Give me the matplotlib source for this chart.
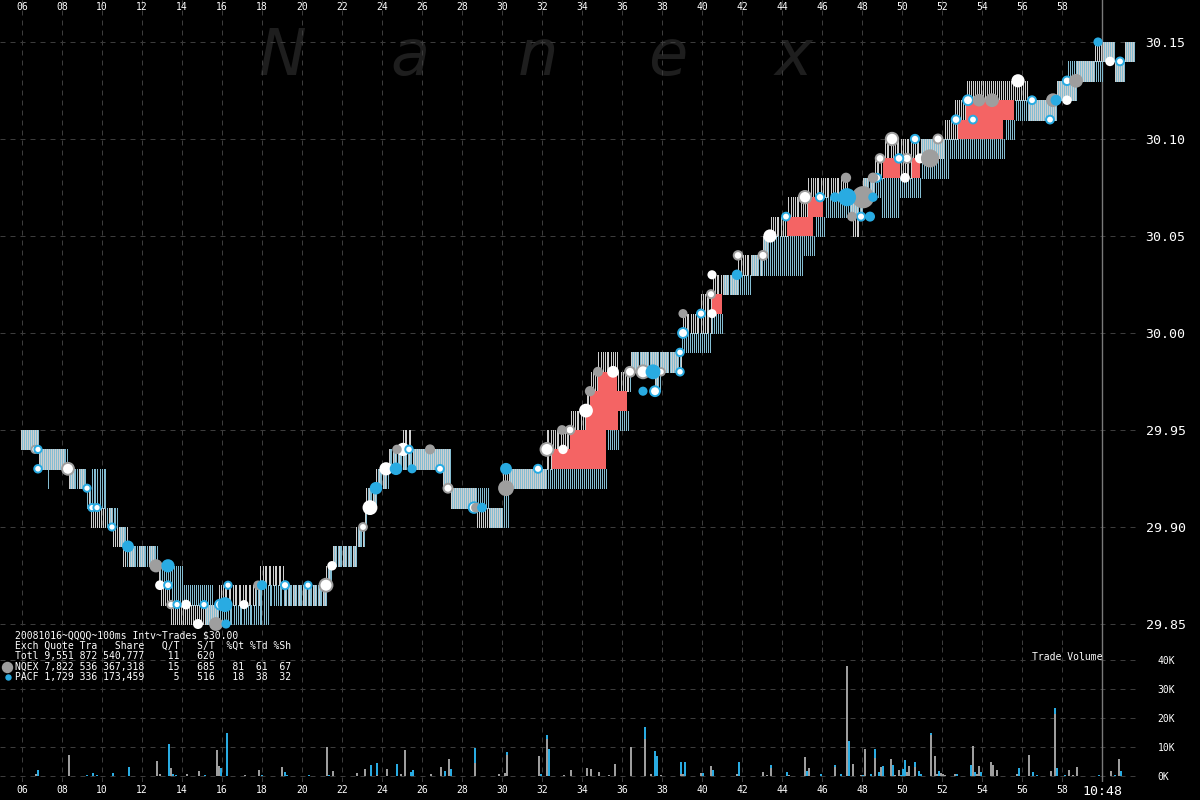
import numpy as np
import matplotlib
matplotlib.use("Agg")
import matplotlib.pyplot as plt
from matplotlib.lines import Line2D

# ---------------- data (time = seconds after 10:47:00) ----------------
# NQEX quote steps: start time, bid, ask
NQ_T = [5.9, 6.8, 8.3, 9.2, 9.4, 10.5, 11.0, 11.3, 12.75, 12.9, 13.4, 15.8, 17.9, 19.05,
        21.2, 21.45, 22.65, 23.05, 23.2, 23.65, 24.25, 25.0, 25.45, 27.0, 27.4, 28.7, 30.0,
        32.2, 32.5, 33.4, 34.2, 34.4, 34.8, 35.75, 36.4, 37.55, 37.9, 39.0, 39.9, 40.5,
        41.75, 43.0, 43.4, 44.25, 45.3, 47.25, 47.5, 47.9, 48.0, 48.55, 49.05, 49.9, 50.5,
        52.05, 52.6, 52.8, 53.2, 56.3, 57.65, 58.65, 59.55, 60.55, 61.05]
NQ_BID = [29.94, 29.93, 29.92, 29.91, 29.90, 29.89, 29.88, 29.88, 29.87, 29.86, 29.85, 29.86, 29.87, 29.86,
          29.87, 29.88, 29.89, 29.90, 29.91, 29.92, 29.93, 29.93, 29.93, 29.92, 29.91, 29.90, 29.92,
          29.93, 29.94, 29.95, 29.96, 29.97, 29.98, 29.97, 29.98, 29.97, 29.98, 30.00, 30.00, 30.02,
          30.03, 30.04, 30.05, 30.06, 30.07, 30.06, 30.05, 30.06, 30.07, 30.08, 30.09, 30.08, 30.09,
          30.10, 30.10, 30.11, 30.12, 30.11, 30.12, 30.13, 30.14, 30.13, 30.14]
NQ_ASK = [29.95, 29.94, 29.93, 29.92, 29.91, 29.90, 29.90, 29.89, 29.88, 29.87, 29.86, 29.87, 29.88, 29.87,
          29.88, 29.89, 29.90, 29.91, 29.92, 29.93, 29.94, 29.95, 29.94, 29.94, 29.92, 29.91, 29.93,
          29.95, 29.95, 29.96, 29.97, 29.98, 29.99, 29.98, 29.99, 29.99, 29.99, 30.01, 30.02, 30.03,
          30.04, 30.05, 30.06, 30.07, 30.08, 30.07, 30.07, 30.07, 30.08, 30.09, 30.10, 30.10, 30.10,
          30.11, 30.12, 30.12, 30.13, 30.12, 30.13, 30.14, 30.15, 30.14, 30.15]

# PACF quote steps: start time, bid, ask
PA_T = [5.9, 6.8, 7.15, 7.3, 8.3, 9.2, 9.4, 10.2, 10.8, 11.2, 12.75, 13.4, 14.0, 15.05, 15.5,
        17.55, 18.3, 21.2, 21.45, 22.65, 23.05, 23.2, 23.65, 24.25, 27.0, 27.4, 29.3, 30.0,
        30.3, 35.2, 35.8, 36.25, 36.4, 37.55, 37.9, 38.9, 40.4, 41.0, 42.4, 43.0, 45.0,
        45.55, 46.05, 48.0, 48.9, 49.8, 50.9, 52.3, 55.05, 55.6, 57.65, 58.15, 58.65, 60.0,
        60.55, 61.05]
PA_BID = [29.94, 29.93, 29.92, 29.93, 29.92, 29.91, 29.91, 29.90, 29.89, 29.88, 29.87, 29.86, 29.86, 29.85, 29.85,
          29.85, 29.86, 29.87, 29.88, 29.89, 29.90, 29.91, 29.92, 29.93, 29.92, 29.91, 29.90, 29.90,
          29.92, 29.94, 29.95, 29.97, 29.98, 29.97, 29.98, 29.99, 30.00, 30.02, 30.03, 30.03, 30.04,
          30.05, 30.06, 30.07, 30.06, 30.07, 30.08, 30.09, 30.10, 30.11, 30.12, 30.12, 30.13, 30.14,
          30.13, 30.14]
PA_ASK = [29.95, 29.94, 29.94, 29.94, 29.93, 29.92, 29.93, 29.91, 29.90, 29.89, 29.88, 29.88, 29.87, 29.87, 29.86,
          29.87, 29.87, 29.88, 29.89, 29.90, 29.91, 29.92, 29.93, 29.94, 29.94, 29.92, 29.91, 29.92,
          29.93, 29.95, 29.96, 29.98, 29.99, 29.99, 29.99, 30.00, 30.01, 30.03, 30.04, 30.05, 30.05,
          30.06, 30.07, 30.08, 30.08, 30.08, 30.10, 30.10, 30.11, 30.12, 30.13, 30.14, 30.14, 30.15,
          30.14, 30.15]
T_END = 61.6

# Trades: time, price, size (shares), marker style
TR_T = [6.65, 6.8, 6.8, 8.3, 9.25, 9.5, 9.75, 10.5, 11.3, 12.7, 13.3, 12.9, 13.3, 13.45, 13.75,
        14.2, 15.1, 15.9, 16.15, 16.3, 14.8, 15.7, 16.2, 17.1, 17.8, 18.0, 19.15, 20.3, 21.2,
        21.5, 23.05, 23.4, 23.7, 24.2, 24.7, 25.5, 24.75, 25.05, 25.35, 26.4, 26.9, 27.3,
        28.6, 28.7, 29.0, 30.2, 30.2, 31.8, 32.25, 33.05, 33.0, 33.4, 34.2, 34.4, 34.8,
        35.55, 36.4, 37.05, 37.55, 37.05, 37.65, 37.95, 38.9, 38.9, 39.05, 39.05, 39.95,
        40.5, 40.45, 40.5, 41.75, 41.8, 43.05, 43.4, 44.2, 45.15, 45.9, 46.65, 47.25, 48.05,
        48.55, 47.2, 47.5, 47.95, 48.4, 48.55, 48.75, 48.9, 49.5, 49.85, 50.25, 50.15, 50.9,
        51.4, 50.65, 51.8, 52.7, 53.55, 53.3, 53.85, 54.5, 55.8, 56.5, 57.55, 57.7, 57.4,
        58.25, 58.25, 58.7, 59.8, 60.4, 60.9]
TR_P = [29.94, 29.94, 29.93, 29.93, 29.92, 29.91, 29.91, 29.90, 29.89, 29.88, 29.88, 29.87, 29.87, 29.86, 29.86,
        29.86, 29.86, 29.86, 29.86, 29.87, 29.85, 29.85, 29.85, 29.86, 29.87, 29.87, 29.87, 29.87, 29.87,
        29.88, 29.90, 29.91, 29.92, 29.93, 29.93, 29.93, 29.94, 29.94, 29.94, 29.94, 29.93, 29.92,
        29.91, 29.91, 29.91, 29.92, 29.93, 29.93, 29.94, 29.94, 29.95, 29.95, 29.96, 29.97, 29.98,
        29.98, 29.98, 29.98, 29.98, 29.97, 29.97, 29.98, 29.98, 29.99, 30.00, 30.01, 30.01,
        30.01, 30.02, 30.03, 30.03, 30.04, 30.04, 30.05, 30.06, 30.07, 30.07, 30.07, 30.07, 30.07,
        30.07, 30.08, 30.06, 30.06, 30.06, 30.08, 30.08, 30.09, 30.10, 30.09, 30.09, 30.08, 30.09,
        30.09, 30.10, 30.10, 30.11, 30.11, 30.12, 30.12, 30.12, 30.13, 30.12, 30.12, 30.12, 30.11,
        30.12, 30.13, 30.13, 30.15, 30.14, 30.14]
TR_SIZE = [300, 300, 400, 3000, 300, 300, 300, 300, 1500, 2500, 2500, 500, 500, 400, 300,
           500, 300, 1500, 4000, 300, 600, 3000, 300, 300, 400, 600, 600, 300, 4000,
           400, 500, 4000, 2000, 2500, 2000, 300, 400, 2500, 400, 600, 500, 1000,
           2000, 500, 500, 5000, 1500, 600, 4000, 400, 500, 800, 3000, 700, 600,
           1500, 1500, 4000, 4000, 300, 1500, 400, 400, 400, 1500, 300, 600,
           300, 600, 300, 800, 800, 1000, 2500, 500, 3500, 700, 500, 8000, 15000,
           400, 700, 500, 600, 600, 800, 600, 800, 3500, 800, 1200, 500, 600,
           8000, 700, 1000, 800, 500, 1500, 2000, 3000, 2500, 500, 3000, 1000, 500,
           400, 800, 3000, 300, 400, 500]
TR_STYLE = ['wg', 'wb', 'wb', 'wg', 'wb', 'wb', 'wb', 'wb', 'b', 'g', 'b', 'w', 'wb', 'wg', 'wb',
            'w', 'wb', 'wb', 'b', 'wb', 'w', 'g', 'b', 'w', 'g', 'b', 'wb', 'wb', 'wg',
            'w', 'wg', 'w', 'b', 'w', 'b', 'b', 'g', 'w', 'wb', 'g', 'wb', 'wg',
            'wb', 'g', 'b', 'g', 'b', 'wb', 'wg', 'w', 'g', 'wg', 'w', 'g', 'g',
            'w', 'wg', 'wg', 'b', 'b', 'wb', 'wg', 'wb', 'wb', 'wb', 'g', 'wb',
            'w', 'wg', 'w', 'b', 'wg', 'wg', 'w', 'wb', 'wg', 'wb', 'b', 'b', 'g',
            'b', 'g', 'g', 'wb', 'b', 'g', 'wb', 'wg', 'wg', 'wb', 'wg', 'w', 'w',
            'g', 'wb', 'wg', 'wb', 'wb', 'wb', 'g', 'g', 'w', 'wb', 'g', 'b', 'wb',
            'w', 'wb', 'g', 'b', 'w', 'wb']

# Trade volume per 100ms interval (thousands of shares): NQEX, PACF
VOL_T = [6.7, 6.8, 8.35, 9.26, 9.53, 9.75, 10.55, 11.35, 12.75, 12.9, 13.34, 13.45, 13.55, 13.7,
         14.24, 14.83, 15.15, 15.73, 15.85, 15.95, 16.27, 17.15, 17.84, 18.0, 19.02, 19.14, 19.25,
         20.36, 21.24, 21.36, 21.55, 22.73, 23.14, 23.44, 23.77, 24.25, 24.74, 24.94, 25.15, 25.44,
         25.55, 26.47, 26.94, 27.15, 27.35, 27.45, 28.65, 29.87, 30.15, 30.25, 31.86, 31.95, 32.25,
         32.35, 33.1, 33.45, 34.24, 34.45, 34.85, 35.35, 35.66, 36.45, 37.14, 37.45, 37.65, 37.75,
         37.97, 38.95, 39.05, 39.13, 39.93, 40.03, 40.44, 40.55, 41.74, 41.84, 43.04, 43.25, 43.44,
         44.23, 44.33, 45.14, 45.25, 45.35, 45.95, 46.64, 46.95, 47.24, 47.35, 47.55, 47.95, 48.05,
         48.16, 48.47, 48.66, 48.85, 48.95, 49.05, 49.45, 49.55, 49.65, 49.84, 49.95, 50.05, 50.15,
         50.25, 50.35, 50.65, 50.85, 50.95, 51.45, 51.65, 51.75, 51.85, 51.95, 52.05, 52.15, 52.65,
         52.75, 53.44, 53.55, 53.65, 53.75, 53.84, 53.94, 54.44, 54.54, 54.75, 55.74, 55.84, 56.34,
         56.54, 56.74, 57.44, 57.63, 57.73, 58.13, 58.33, 58.53, 58.73, 59.83, 60.45, 60.65, 60.85,
         60.95]
VOL_NQ = [0.7, 0, 7.4, 0, 0, 0, 0, 0, 5.3, 0.8, 0, 2.9, 0, 0,
          0.6, 1.8, 0, 9.1, 3.6, 0, 0, 0.3, 2.2, 0, 3.2, 0, 0,
          0, 10.0, 0, 1.8, 1.1, 2.5, 0, 0.5, 2.5, 0, 0.6, 9.1, 0,
          0, 0.7, 3.2, 0, 6.0, 0, 4.6, 0.8, 1.1, 7.1, 7.0, 0, 12.9,
          0, 0.3, 2.2, 2.9, 2.5, 1.4, 0.3, 4.1, 10.1, 12.6, 0.6, 0, 0,
          0.4, 0.8, 0.8, 0, 0.9, 0, 3.6, 0, 0.8, 0, 1.5, 0.4, 2.9,
          0, 0.3, 6.7, 0, 2.9, 0, 3.2, 0, 38.0, 0, 4.3, 0.4, 0,
          9.2, 0, 6.3, 0, 3.2, 0, 6.0, 0, 0.3, 2.2, 0, 0, 0,
          1.4, 3.6, 3.2, 0, 0, 14.3, 7.0, 0.8, 0, 1.1, 0.6, 0.3, 0.8,
          0, 0, 10.5, 0, 0.6, 3.6, 0, 4.9, 3.9, 2.2, 0.8, 0, 7.4,
          0, 0, 1.8, 21.3, 0, 0, 2.2, 0.3, 3.2, 0, 1.6, 0, 5.9,
          0]
VOL_PA = [0, 2.2, 0, 0.5, 1.1, 0.3, 1.1, 3.2, 0, 0, 11.1, 0, 0.6, 0.3,
          0, 0, 0.3, 0, 0, 2.9, 14.9, 0, 0, 0.3, 0, 1.5, 0.5,
          0.5, 0, 0.2, 0, 0, 0, 3.9, 3.9, 0, 4.3, 0, 0, 1.5,
          2.2, 0, 0, 1.8, 0, 2.5, 5.2, 0, 0, 1.3, 0, 0.6, 1.4,
          9.4, 0, 0, 0, 0, 0, 0, 0, 0, 4.4, 0, 8.7, 7.0,
          0, 4.1, 0, 4.9, 0, 1.1, 0, 2.2, 0, 4.9, 0, 0, 1.0,
          1.5, 0, 0, 1.8, 0, 0.8, 0.7, 0.8, 0, 12.2, 0, 0, 0.3,
          0, 0.8, 3.1, 1.4, 0, 3.6, 0, 3.9, 0, 0, 0.5, 2.5, 5.6,
          0, 0, 1.7, 1.8, 0.8, 0.7, 0, 0, 1.8, 0, 0, 0, 0,
          0.8, 3.9, 0, 1.5, 0, 0, 1.5, 0, 0, 0, 0, 2.9, 0,
          1.5, 0.3, 0, 2.0, 2.9, 0.5, 0, 0, 0, 0.3, 0, 0.2, 0,
          1.7]

PRICE_TICKS = [29.85, 29.90, 29.95, 30.00, 30.05, 30.10, 30.15]
VOL_TICKS = [0, 10, 20, 30, 40]
VOL_LABELS = ["0K", "10K", "20K", "30K", "40K"]
SEC_TICKS = list(range(6, 61, 2))
SEC_LABELS = ["%02d" % s for s in range(6, 59, 2)] + ["10:48"]

LEGEND_LINES = [
    "20081016~QQQQ~100ms Intv~Trades $30.00",
    "Exch Quote Tra   Share   Q/T   S/T  %Qt %Td %Sh",
    "Totl 9,551 872 540,777    11   620",
    "NQEX 7,822 536 367,318    15   685   81  61  67",
    "PACF 1,729 336 173,459     5   516   18  38  32",
]

# ---------------- style ----------------
BG = "black"
GRID = "#3c3c3c"
NQ_LINE = "#cfcfcf"
PA_LINE = "#84bdd2"
RED = "#f46464"
GRAY = "#9e9e9e"
BLUE = "#29abe2"
MONO = "DejaVu Sans Mono"
plt.rcParams["font.family"] = [MONO, "DejaVu Sans"]

W, H = 1200, 800
fig = plt.figure(figsize=(12, 8), dpi=100, facecolor=BG)
AX_W = 1140
XMIN = 4.9
XMAX = XMIN + AX_W / 20.0
ax_p = fig.add_axes([0, (H - 645) / H, AX_W / W, 645 / H])
ax_v = fig.add_axes([0, (H - 782) / H, AX_W / W, (782 - 645) / H])

for ax in (ax_p, ax_v):
    ax.set_facecolor(BG)
    for sp in ax.spines.values():
        sp.set_visible(False)
    ax.set_xlim(XMIN, XMAX)
    ax.set_axisbelow(True)
    ax.grid(True, color=GRID, linewidth=0.72, linestyle=(0, (5, 5)))
    ax.set_xticks(SEC_TICKS)

ax_p.set_ylim(30.15 - (645 - 42) / 1940.0, 30.15 + 42 / 1940.0)
ax_v.set_ylim(-(782 - 776) / 2.9, (776 - 645) / 2.9)

# ---- quote bands drawn as 100ms vertical lines ----
def lookup(T, V, t):
    idx = np.searchsorted(np.asarray(T), t + 1e-9, side="right") - 1
    return np.asarray(V)[idx]

tg = np.round(np.arange(NQ_T[0], T_END, 0.1), 3)
nb, na = lookup(NQ_T, NQ_BID, tg), lookup(NQ_T, NQ_ASK, tg)
pb, pa = lookup(PA_T, PA_BID, tg), lookup(PA_T, PA_ASK, tg)
ax_p.vlines(tg + 0.025, nb, na, colors=NQ_LINE, linewidth=0.72, antialiased=False, zorder=2)
ax_p.vlines(tg + 0.075, pb, pa, colors=PA_LINE, linewidth=0.72, antialiased=False, zorder=2)

# ---- crossed markets (red) ----
tb = np.array(sorted(set(NQ_T) | set(PA_T)) + [T_END])
b_nb, b_na = lookup(NQ_T, NQ_BID, tb[:-1]), lookup(NQ_T, NQ_ASK, tb[:-1])
b_pb, b_pa = lookup(PA_T, PA_BID, tb[:-1]), lookup(PA_T, PA_ASK, tb[:-1])
widths = np.diff(tb)
m1 = b_nb > b_pa + 1e-9
ax_p.bar(tb[:-1][m1], (b_nb - b_pa)[m1], width=widths[m1], bottom=b_pa[m1],
         align="edge", color=RED, linewidth=0, zorder=3)
m2 = b_pb > b_na + 1e-9
if m2.any():
    ax_p.bar(tb[:-1][m2], (b_pb - b_na)[m2], width=widths[m2], bottom=b_na[m2],
             align="edge", color=RED, linewidth=0, zorder=3)

# ---- trades ----
TR_T_a = np.array(TR_T)
TR_P_a = np.array(TR_P)
diam = 5 + np.sqrt(np.array(TR_SIZE, dtype=float)) / 8.0
sizes = (diam * 0.72) ** 2
STY = {"w": ("white", "white"), "wg": ("white", GRAY), "wb": ("white", BLUE),
       "g": (GRAY, GRAY), "b": (BLUE, BLUE)}
st = np.array(TR_STYLE)
for key, (fc, ec) in STY.items():
    m = st == key
    if m.any():
        ax_p.scatter(TR_T_a[m], TR_P_a[m], s=sizes[m], facecolor=fc, edgecolor=ec,
                     linewidths=1.4, zorder=4)

# ---- volume bars ----
VOL_T_a = np.array(VOL_T)
VOL_NQ_a = np.array(VOL_NQ)
VOL_PA_a = np.array(VOL_PA)
ax_v.bar(VOL_T_a, VOL_NQ_a, width=0.1, color=GRAY, linewidth=0, zorder=2)
ax_v.bar(VOL_T_a, VOL_PA_a, width=0.1, bottom=VOL_NQ_a, color=BLUE, linewidth=0, zorder=2)

# 10:48 marker
for ax in (ax_p, ax_v):
    ax.axvline(60, color="#7a7a7a", linewidth=1.0, zorder=1)

# ---- ticks ----
ax_p.set_xticklabels(SEC_LABELS[:-1] + [""])
ax_p.tick_params(axis="x", top=True, bottom=False, labeltop=True, labelbottom=False,
                 length=0, pad=-8.5, labelsize=7, labelcolor="white")
ax_p.set_yticks(PRICE_TICKS)
ax_p.set_yticklabels(["%.2f" % p for p in PRICE_TICKS])
ax_p.tick_params(axis="y", left=False, right=True, labelleft=False, labelright=True,
                 length=0, pad=4.0, labelsize=9.5, labelcolor="white")

ax_v.set_xticklabels(SEC_LABELS)
ax_v.tick_params(axis="x", length=0, pad=2, labelsize=7, labelcolor="white")
ax_v.get_xticklabels()[-1].set_fontsize(9.5)
ax_v.set_yticks(VOL_TICKS)
ax_v.set_yticklabels(VOL_LABELS)
ax_v.tick_params(axis="y", left=False, right=True, labelleft=False, labelright=True,
                 length=0, pad=12.5, labelsize=7, labelcolor="white")

# ---- watermark ----
for ch, x in zip("Nanex", [258, 390, 518, 648, 775]):
    ax_p.text(x / W, 1 - 75 / H, ch, transform=fig.transFigure, fontsize=46,
              family="DejaVu Sans", style="italic", color="#1e1e1e",
              ha="left", va="baseline", zorder=0.3)

# ---- stats legend ----
for i, line in enumerate(LEGEND_LINES):
    fig.text(15 / W, 1 - (636 + 10.2 * i) / H, line, fontsize=7, family=MONO,
             color="white", ha="left", va="center", zorder=6)
fig.add_artist(Line2D([7 / W], [1 - 667 / H], transform=fig.transFigure, marker="o",
                      markersize=10 * 0.72, color=GRAY, linestyle="none"))
fig.add_artist(Line2D([8 / W], [1 - 677 / H], transform=fig.transFigure, marker="o",
                      markersize=5 * 0.72, color=BLUE, linestyle="none"))
fig.text(1067 / W, 1 - 657 / H, "Trade Volume", fontsize=7, family=MONO, color="white",
         ha="center", va="center")

fig.savefig("out.png", dpi=100, facecolor=BG)
